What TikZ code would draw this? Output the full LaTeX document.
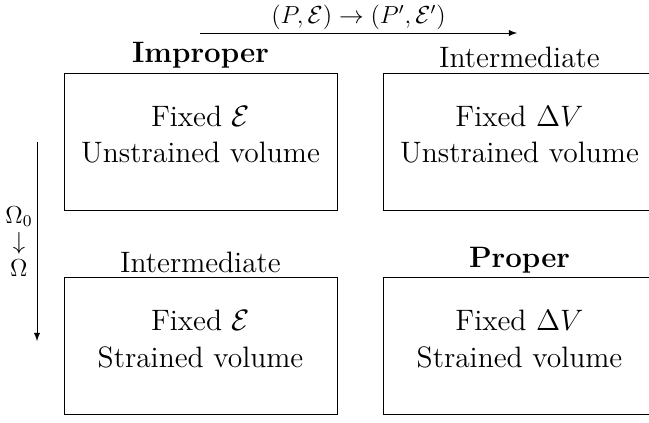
\documentclass[tikz,border=0pt]{standalone}
\usepackage{amsmath}
\usepackage{amssymb}
\usetikzlibrary{positioning,arrows}

\begin{document}
\begin{tikzpicture}[x=0.4878pt,y=-0.4878pt,>=latex]
	\tikzstyle{box}=[draw, minimum width=133.2pt, minimum height=66.8pt, inner sep=0pt]
	\tikzstyle{inside}=[font=\Large, align=center]
	\tikzstyle{title}=[font=\Large, inner sep=3pt]
	\useasboundingbox (0,0) rectangle (649,422);
	%Boxes
	\node[box](ul) at (200.5,141.5){};
	\node[box](ur)[right=22pt of ul]{};
	\node[box](sl)[below=32.7pt of ul]{};
	\node[box](sr)[right=22pt of sl]{};
	%Texts
	\node[inside](tul) at ([yshift=3.4pt]ul.center){Fixed $\mathcal{E}$\\Unstrained volume};
	\node[inside](tur) at ([yshift=3.4pt]ur.center){Fixed $\Delta V$\\Unstrained volume};
	\node[inside](tsl) at ([yshift=3.4pt]sl.center){Fixed $\mathcal{E}$\\Strained volume};
	\node[inside](tsr) at ([yshift=3.4pt]sr.center){Fixed $\Delta V$\\Strained volume};
	%Titles
	\node[title](hul)[above=-1pt of ul]{\textbf{Improper}};
	\node[title](hur)[above=-1pt of ur]{Intermediate};
	\node[title](hsl)[above=-1pt of sl]{Intermediate};
	\node[title](hsr)[above=-1pt of sr]{\textbf{Proper}};
	%Arrows
	\coordinate (p0) at (200,33);
	\coordinate (p1) at (517,33);
	\draw[->] (p0) -- node[above, font=\large, inner sep=1.6pt](lp){$(P,\mathcal{E}) \rightarrow (P',\mathcal{E}')$} (p1);
	\coordinate (o0) at (37,142);
	\coordinate (o1) at (37,341);
	\draw[->] (o0) -- node[left, font=\large, align=center, inner sep=2pt](lo){$\Omega_0$\\[-1pt]$\downarrow$\\[-1pt]$\Omega$} (o1);
\end{tikzpicture}
\end{document}
